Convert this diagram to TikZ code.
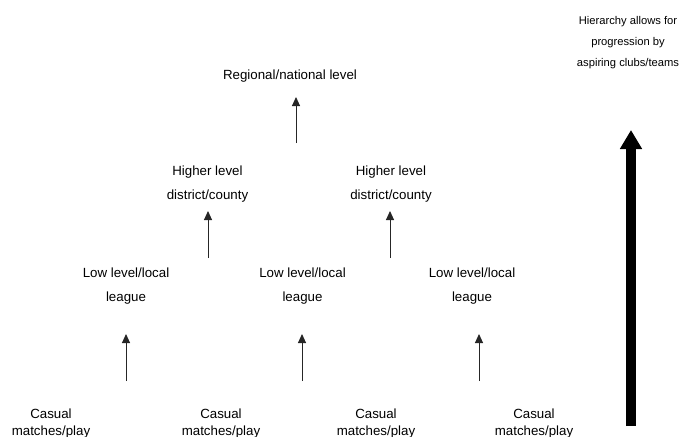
\documentclass[tikz,border=0pt]{standalone}
\usepackage{fontspec}
\setmainfont{Liberation Sans}
\usetikzlibrary{arrows.meta,calc}
\begin{document}
\begin{tikzpicture}[x=1pt,y=-1pt,
  lbl/.style={align=center,inner sep=0pt,font=\fontsize{13.3}{23.5}\selectfont,text=black},
  caslbl/.style={align=center,inner sep=0pt,font=\fontsize{13.3}{17}\selectfont,text=black},
  hierlbl/.style={align=center,inner sep=0pt,font=\fontsize{11.2}{21}\selectfont,text=black},
  up/.style={line width=1pt,black!85,-{Triangle[width=8pt,length=9pt]}},
  bigup/.style={line width=10pt,black,-{Triangle[width=21pt,length=19pt]}}]
\path[use as bounding box] (0,0) rectangle (682,436);

\node[hierlbl] (hier) at (628,43) {Hierarchy allows for\\progression by\\aspiring clubs/teams};

\node[lbl] (reg) at (290,76) {Regional/national level};
\node[lbl] (high1) at (207.5,184) {Higher level\\district/county};
\node[lbl] (high2) at (391,184) {Higher level\\district/county};
\node[lbl] (low1) at (126,286) {Low level/local\\league};
\node[lbl] (low2) at (302.5,286) {Low level/local\\league};
\node[lbl] (low3) at (472,286) {Low level/local\\league};
\node[caslbl] (cas1) at (51,424) {Casual\\matches/play};
\node[caslbl] (cas2) at (221,424) {Casual\\matches/play};
\node[caslbl] (cas3) at (376,424) {Casual\\matches/play};
\node[caslbl] (cas4) at (534,424) {Casual\\matches/play};

\coordinate (t0) at (296,143);
\coordinate (t1) at (208,258);
\coordinate (t2) at (390,258);
\coordinate (t3) at (126,381);
\coordinate (t4) at (302,381);
\coordinate (t5) at (479,381);
\coordinate (tb) at (631,426);

\draw[up] (t0) -- ($(t0 |- reg.center)+(0,21)$);
\draw[up] (t1) -- ($(t1 |- high1.center)+(0,27)$);
\draw[up] (t2) -- ($(t2 |- high2.center)+(0,27)$);
\draw[up] (t3) -- ($(t3 |- low1.center)+(0,48)$);
\draw[up] (t4) -- ($(t4 |- low2.center)+(0,48)$);
\draw[up] (t5) -- ($(t5 |- low3.center)+(0,48)$);
\draw[bigup] (tb) -- ($(tb |- hier.center)+(0,87)$);
\end{tikzpicture}
\end{document}
